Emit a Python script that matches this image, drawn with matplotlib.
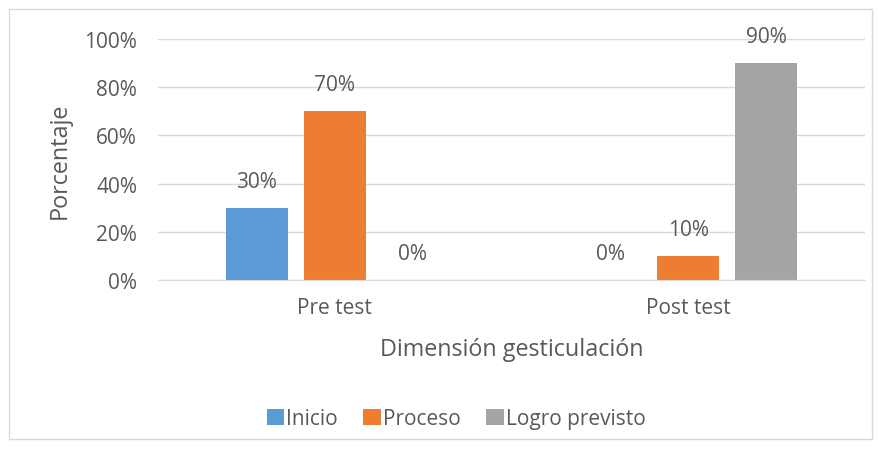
import matplotlib
matplotlib.use("Agg")
import matplotlib.pyplot as plt
from matplotlib.patches import Rectangle
import numpy as np

categories = ["Pre test", "Post test"]
series = ["Inicio", "Proceso", "Logro previsto"]
inicio = [0.30, 0.00]
proceso = [0.70, 0.10]
logro = [0.00, 0.90]
yticks = [0, 0.2, 0.4, 0.6, 0.8, 1.0]
colors = ["#5B9BD5", "#ED7D31", "#A5A5A5"]

plt.rcParams['font.family'] = ['Open Sans', 'DejaVu Sans']
txt = "#595959"
fs = 15

fig = plt.figure(figsize=(8.79, 4.52), dpi=100)
fig.patches.append(Rectangle((9/879, 1-440/452), 863/879, 430/452, transform=fig.transFigure,
                             fill=False, edgecolor="#d9d9d9", linewidth=1))
ax = fig.add_axes([158/879, 1-281/452, 707/879, 241/452])

x = np.arange(len(categories))
w = 62/353.5
off = 78/353.5
for i, (vals, name) in enumerate(zip([inicio, proceso, logro], series)):
    pos = x + (i-1)*off
    bars = ax.bar(pos, vals, width=w, color=colors[i], label=name, zorder=2)
    for p, v in zip(pos, vals):
        ax.annotate(f"{v*100:.0f}%", (p, v), xytext=(0, 19), textcoords="offset points",
                    ha="center", va="center", fontsize=fs, color=txt)

ax.set_xlim(-0.5, 1.5)
ax.set_ylim(0, 1)
ax.set_yticks(yticks)
ax.set_yticklabels([f"{t*100:.0f}%" for t in yticks], fontsize=fs, color=txt)
ax.set_xticks(x)
ax.set_xticklabels(categories, fontsize=fs, color=txt)
ax.tick_params(length=0)
ax.tick_params(axis='y', pad=15)
ax.tick_params(axis='x', pad=12)
ax.grid(axis='y', color="#d9d9d9", linewidth=1, zorder=0)
ax.set_axisbelow(True)
for s in ["top", "right", "left"]:
    ax.spines[s].set_visible(False)
ax.spines["bottom"].set_color("#d9d9d9")
ax.set_ylabel("Porcentaje", fontsize=16.8, color=txt, labelpad=9)
ax.set_xlabel("Dimensión gesticulación", fontsize=16.8, color=txt, labelpad=14)

leg = fig.legend(loc="center", bbox_to_anchor=(456/879, 1-420/452), ncol=3, frameon=False,
                 fontsize=fs, handlelength=0.82, handleheight=0.82, handletextpad=0.1,
                 columnspacing=1.25, labelcolor=txt)

fig.savefig("out.png", dpi=100)
